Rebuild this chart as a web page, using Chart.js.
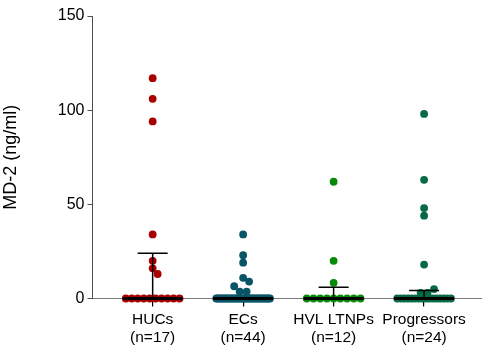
<!DOCTYPE html>
<html lang="en">
<head>
    <meta charset="UTF-8">
    <title>MD-2 levels by group</title>
    <script src="https://cdn.jsdelivr.net/npm/chart.js"></script>
    <style>
        body { margin: 0; background: #fff; }
    </style>
</head>
<body>
    <canvas id="md2Chart" width="486" height="351"></canvas>

    <script>
        // groups and their sizes
        const categories = ['HUCs', 'ECs', 'HVL LTNPs', 'Progressors'];
        const groupSizes = [17, 44, 12, 24];

        // MD-2 (ng/ml) per subject
        const hucs = [117, 106, 94, 34, 20, 16, 13, 0, 0, 0, 0, 0, 0, 0, 0, 0, 0];
        const ecs = [34, 23, 19, 11, 9, 6.5, 3.7, 3.7,
            0, 0, 0, 0, 0, 0, 0, 0, 0, 0, 0, 0, 0, 0, 0, 0, 0, 0,
            0, 0, 0, 0, 0, 0, 0, 0, 0, 0, 0, 0, 0, 0, 0, 0, 0, 0];
        const hvlLtnps = [62, 20, 8.3, 0, 0, 0, 0, 0, 0, 0, 0, 0];
        const progressors = [98, 63, 48, 44, 18, 5, 3, 3,
            0, 0, 0, 0, 0, 0, 0, 0, 0, 0, 0, 0, 0, 0, 0, 0];

        // median and upper error bar per group
        const medians = [0, 0, 0, 0];
        const upperBars = [24, 0, 6, 4.3];

        const groups = [hucs, ecs, hvlLtnps, progressors];
        const colors = ['#a80000', '#0a5468', '#078a07', '#086a44'];

        const FONT = "'Liberation Sans', Arial, sans-serif";

        // simple beeswarm: tied values spread in a row, others pushed sideways until free
        function swarmOffsets(values, yScale) {
            const D = 7;
            const offsets = new Array(values.length).fill(0);
            const placed = [];
            const counts = {};
            values.forEach(v => { counts[v] = (counts[v] || 0) + 1; });

            Object.keys(counts).forEach(key => {
                const n = counts[key];
                if (n < 2) return;
                const v = Number(key);
                const span = Math.min((n - 1) * 7, 54);
                let k = 0;
                values.forEach((val, i) => {
                    if (val !== v) return;
                    offsets[i] = -span / 2 + k * span / (n - 1);
                    placed.push({ dx: offsets[i], y: yScale.getPixelForValue(v) });
                    k++;
                });
            });

            const singles = values.map((v, i) => i).filter(i => counts[values[i]] === 1)
                .sort((a, b) => values[b] - values[a]);
            singles.forEach(i => {
                const py = yScale.getPixelForValue(values[i]);
                for (let s = 0; s < 60; s++) {
                    const dx = s === 0 ? 0 : (s % 2 ? (s + 1) / 2 : -s / 2);
                    const hit = placed.some(p => (p.dx - dx) ** 2 + (p.y - py) ** 2 < D * D);
                    if (!hit) {
                        offsets[i] = dx;
                        placed.push({ dx: dx, y: py });
                        break;
                    }
                }
            });
            return offsets;
        }

        const medianBars = {
            id: 'medianBars',
            afterDatasetsDraw(chart) {
                const { ctx, scales: { x, y } } = chart;
                ctx.save();
                ctx.strokeStyle = '#000';
                medians.forEach((m, i) => {
                    const cx = x.getPixelForValue(i);
                    const ym = y.getPixelForValue(m);
                    const yu = y.getPixelForValue(upperBars[i]);
                    ctx.lineWidth = 1.5;
                    ctx.beginPath();
                    ctx.moveTo(cx, ym);
                    ctx.lineTo(cx, yu);
                    ctx.moveTo(cx - 15, yu);
                    ctx.lineTo(cx + 15, yu);
                    ctx.stroke();
                    ctx.lineWidth = 3;
                    ctx.beginPath();
                    ctx.moveTo(cx - 30, ym);
                    ctx.lineTo(cx + 30, ym);
                    ctx.stroke();
                });
                ctx.restore();
            }
        };

        const ctx = document.getElementById('md2Chart').getContext('2d');
        const chart = new Chart(ctx, {
            type: 'scatter',
            data: {
                datasets: groups.map((vals, gi) => ({
                    label: categories[gi],
                    data: [],
                    backgroundColor: colors[gi],
                    borderColor: colors[gi],
                    borderWidth: 0,
                    pointRadius: 3.9,
                    clip: false
                }))
            },
            options: {
                responsive: false,
                animation: false,
                layout: { padding: { top: 16, right: 2, left: 0, bottom: 0 } },
                plugins: {
                    legend: { display: false },
                    tooltip: { enabled: false }
                },
                scales: {
                    x: {
                        type: 'linear',
                        min: -0.665,
                        max: 3.64,
                        afterBuildTicks: s => { s.ticks = categories.map((c, i) => ({ value: i })); },
                        afterFit: s => { s.height = 52.5; },
                        border: { color: '#7a7a7a', width: 1 },
                        grid: { drawOnChartArea: false, tickLength: 8, color: '#000', lineWidth: 1.2 },
                        ticks: {
                            color: '#000',
                            font: { family: FONT, size: 15.5, lineHeight: 1.12 },
                            padding: 5,
                            maxRotation: 0,
                            callback: v => [categories[v], '(n=' + groupSizes[v] + ')']
                        }
                    },
                    y: {
                        min: 0,
                        max: 150,
                        afterFit: s => { s.width = 92.5; },
                        border: { color: '#505050', width: 1 },
                        grid: { drawOnChartArea: false, tickLength: 5, color: '#505050' },
                        ticks: {
                            stepSize: 50,
                            color: '#000',
                            font: { family: FONT, size: 16 },
                            padding: 3
                        },
                        title: {
                            display: true,
                            text: 'MD-2 (ng/ml)',
                            color: '#000',
                            font: { family: FONT, size: 18 },
                            padding: { top: 0, bottom: 0 }
                        }
                    }
                }
            },
            plugins: [medianBars]
        });

        // place each dot once the scales are laid out
        const xs = chart.scales.x;
        const pxPerX = xs.getPixelForValue(1) - xs.getPixelForValue(0);
        groups.forEach((vals, gi) => {
            const offs = swarmOffsets(vals, chart.scales.y);
            chart.data.datasets[gi].data = vals.map((v, i) => ({ x: gi + offs[i] / pxPerX, y: v }));
        });
        chart.update('none');
    </script>
</body>
</html>
